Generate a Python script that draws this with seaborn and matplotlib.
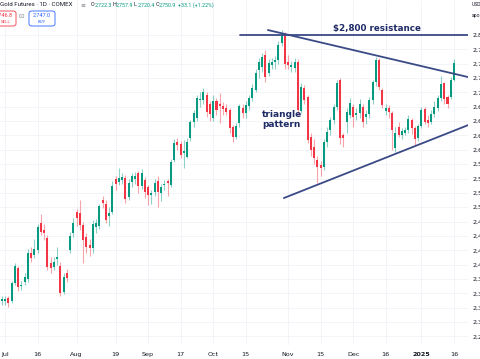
import numpy as np
import pandas as pd
import seaborn as sns
import matplotlib.pyplot as plt
from matplotlib.patches import FancyBboxPatch

# trading days shown on the chart (COMEX holidays dropped)
dates = pd.bdate_range("2024-06-28", "2025-01-16")
holidays = pd.to_datetime(["2024-07-04", "2024-09-02", "2024-11-28", "2024-12-25", "2025-01-01"])
dates = dates.drop(holidays)

# daily OHLC
opens = [2336,
    2337, 2342, 2336, 2368, 2394, 2362, 2370, 2375, 2420, 2417, 2425, 2472, 2460, 2446, 2403, 2396, 2410, 2398, 2352, 2385, 2425, 2455,
    2492, 2490, 2469, 2448, 2434, 2429, 2465, 2467, 2512, 2506, 2484, 2492, 2549, 2544, 2547, 2551, 2518, 2544, 2550, 2560, 2537, 2548,
    2535, 2521, 2527, 2545, 2524, 2538, 2545, 2539, 2582, 2613, 2610, 2594, 2588, 2620, 2648, 2655, 2686, 2687, 2696, 2680,
    2655, 2685, 2680, 2676, 2672, 2669, 2640, 2622, 2646, 2672, 2665, 2676, 2690, 2705, 2739, 2744, 2765, 2734, 2748, 2753, 2756, 2786, 2800,
    2753, 2744, 2743, 2753, 2668, 2708, 2692, 2622, 2605, 2582, 2574, 2570, 2614, 2634, 2652, 2675, 2722, 2626, 2648, 2661,
    2675, 2660, 2664, 2674, 2658, 2662, 2687, 2718, 2756, 2704, 2668, 2672, 2664, 2604, 2640, 2626, 2630, 2634, 2652, 2638, 2620,
    2641, 2671, 2652, 2648, 2662, 2672, 2690, 2716, 2692, 2692, 2722.3]
highs = [2346,
    2346, 2345, 2372, 2402, 2398, 2372, 2385, 2428, 2431, 2445, 2470, 2488, 2470, 2452, 2413, 2414, 2431, 2404, 2386, 2392, 2457, 2482,
    2497, 2513, 2475, 2455, 2445, 2478, 2480, 2506, 2520, 2512, 2500, 2545, 2555, 2568, 2560, 2556, 2550, 2560, 2562, 2563, 2566, 2553,
    2538, 2530, 2550, 2555, 2540, 2548, 2550, 2584, 2618, 2620, 2615, 2617, 2620, 2652, 2670, 2695, 2700, 2708, 2700, 2685,
    2696, 2690, 2699, 2684, 2680, 2672, 2644, 2646, 2680, 2680, 2685, 2696, 2715, 2740, 2760, 2768, 2774, 2758, 2760, 2763, 2790, 2808, 2805,
    2765, 2755, 2760, 2758, 2716, 2713, 2696, 2630, 2618, 2590, 2580, 2618, 2640, 2658, 2680, 2722, 2725, 2629, 2672, 2690,
    2680, 2672, 2688, 2680, 2670, 2692, 2722, 2762, 2760, 2708, 2680, 2678, 2668, 2640, 2648, 2638, 2640, 2660, 2656, 2642, 2645,
    2675, 2675, 2660, 2670, 2685, 2695, 2728, 2718, 2695, 2726, 2757.9]
lows = [2330,
    2330, 2326, 2333, 2364, 2354, 2355, 2365, 2370, 2404, 2412, 2420, 2451, 2443, 2390, 2385, 2390, 2399, 2345, 2348, 2370, 2420, 2448,
    2468, 2460, 2403, 2420, 2415, 2420, 2455, 2462, 2498, 2473, 2468, 2488, 2530, 2538, 2540, 2508, 2512, 2536, 2540, 2525, 2532, 2516,
    2504, 2506, 2520, 2501, 2510, 2530, 2520, 2535, 2578, 2600, 2585, 2568, 2585, 2615, 2640, 2650, 2675, 2680, 2658, 2650,
    2650, 2660, 2647, 2660, 2660, 2630, 2614, 2618, 2640, 2655, 2655, 2670, 2685, 2700, 2725, 2735, 2718, 2728, 2740, 2740, 2750, 2780, 2740,
    2740, 2735, 2735, 2660, 2664, 2680, 2612, 2590, 2575, 2542, 2555, 2564, 2605, 2625, 2645, 2670, 2610, 2605, 2630, 2655,
    2640, 2652, 2655, 2640, 2645, 2655, 2680, 2712, 2705, 2672, 2660, 2655, 2600, 2596, 2622, 2618, 2625, 2630, 2628, 2608, 2615,
    2638, 2645, 2640, 2645, 2658, 2668, 2685, 2680, 2673, 2688, 2720.4]
closes = [2340,
    2341, 2333, 2368, 2397, 2361, 2365, 2378, 2420, 2412, 2427, 2465, 2457, 2455, 2396, 2394, 2405, 2413, 2351, 2378, 2377, 2450, 2473,
    2481, 2469, 2443, 2431, 2429, 2471, 2472, 2502, 2507, 2478, 2490, 2537, 2541, 2551, 2552, 2514, 2542, 2554, 2554, 2537, 2560, 2527,
    2521, 2524, 2542, 2527, 2535, 2541, 2542, 2579, 2612, 2608, 2591, 2598, 2614, 2648, 2664, 2690, 2688, 2701, 2666, 2663,
    2685, 2669, 2677, 2671, 2666, 2638, 2622, 2641, 2676, 2664, 2678, 2691, 2708, 2734, 2753, 2762, 2727, 2751, 2753, 2757, 2783, 2800, 2750,
    2748, 2748, 2753, 2670, 2710, 2687, 2617, 2600, 2586, 2570, 2568, 2614, 2631, 2652, 2674, 2716, 2621, 2621, 2666, 2682,
    2657, 2665, 2680, 2648, 2662, 2686, 2718, 2756, 2710, 2678, 2672, 2666, 2634, 2630, 2626, 2632, 2634, 2653, 2638, 2619, 2641,
    2669, 2648, 2647, 2662, 2675, 2690, 2715, 2688, 2680, 2722, 2750.9]

# x axis labels
tick_dates = ["2024-07-01", "2024-07-16", "2024-08-01", "2024-08-19", "2024-09-03", "2024-09-17", "2024-10-01",
              "2024-10-15", "2024-11-01", "2024-11-15", "2024-12-02", "2024-12-16", "2025-01-02", "2025-01-16"]
tick_labels = ["Jul", "16", "Aug", "19", "Sep", "17", "Oct", "15", "Nov", "15", "Dec", "16", "2025", "16"]
price_ticks = list(range(2275, 2801, 25))

# drawn trendlines (trading-day position, price)
resist_x, resist_y = [73.2, 143.3], [2800, 2800]
upper_x, upper_y = [81.8, 143.3], [2808.7, 2726.8]
lower_x, lower_y = [86.7, 143.3], [2516, 2643]

# header legend values
ohlc_letters = ["O", "H", "L", "C"]
ohlc_values = ["2,722.3", "2,757.9", "2,720.4", "2,750.9"]
change_text = "+33.1 (+1.22%)"

df = pd.DataFrame({"date": dates, "open": opens, "high": highs, "low": lows, "close": closes})
df["pos"] = np.arange(len(df))
df["up"] = df["close"] >= df["open"]

UP, DOWN = "#089981", "#f23645"
NAVY_LINE, NAVY_TEXT = "#3a4a86", "#1f2b66"

sns.set_style("white")
plt.rcParams["font.family"] = ["DejaVu Sans"]

fig = plt.figure(figsize=(4.8, 3.59), dpi=100)
ax = fig.add_axes([0, 14 / 359, 468 / 480, 345 / 359])

colors = np.where(df["up"], UP, DOWN)
ax.vlines(df["pos"], df["low"], df["high"], colors=colors, lw=0.8, alpha=0.45, zorder=2)
body = (df["close"] - df["open"]).abs().clip(lower=1.2)
ax.bar(df["pos"], body, bottom=df[["open", "close"]].min(axis=1), width=0.62, color=colors, lw=0, zorder=3)

sns.lineplot(x=resist_x, y=resist_y, ax=ax, color=NAVY_LINE, lw=1.3, zorder=4)
sns.lineplot(x=upper_x, y=upper_y, ax=ax, color=NAVY_LINE, lw=1.3, zorder=4)
sns.lineplot(x=lower_x, y=lower_y, ax=ax, color=NAVY_LINE, lw=1.3, zorder=4)

ax.text(115.3, 2803, "$2,800 resistance", color=NAVY_TEXT, fontsize=6.3, fontweight="bold",
        ha="center", va="bottom", zorder=5)
ax.text(80, 2669, "triangle\npattern", color=NAVY_TEXT, fontsize=6.5, fontweight="bold",
        ha="left", va="top", linespacing=1.15, zorder=5)

ax.set_xlim(-0.54, 143.3)
ax.set_ylim(2260, 2861)

tick_pos = [dates.get_loc(pd.Timestamp(d)) for d in tick_dates]
ax.set_xticks(tick_pos)
ax.set_xticklabels(tick_labels)
for lab in ax.get_xticklabels():
    if lab.get_text() == "2025":
        lab.set_fontweight("bold")
ax.set_yticks(price_ticks)
ax.set_yticklabels([f"{p:,}" for p in price_ticks])
ax.yaxis.tick_right()
ax.tick_params(axis="x", length=0, pad=5, labelsize=4.6, labelcolor="#131722")
ax.tick_params(axis="y", length=0, pad=3, labelsize=4.6, labelcolor="#131722")
ax.grid(True, color="#f0f2f6", lw=0.6, zorder=0)
for s in ax.spines.values():
    s.set_visible(False)
ax.set_xlabel("")
ax.set_ylabel("")

# legend header like the screenshot
top = 1 - 5 / 359
fig.text(0, top, "Gold Futures · 1D · COMEX", fontsize=4.4, color="#131722", va="center", family="Roboto")
fig.text(80 / 480, top, "≡", fontsize=4.2, color="#787b86", va="center")
for i, (let, val) in enumerate(zip(ohlc_letters, ohlc_values)):
    x0 = 91 + 21.5 * i
    fig.text(x0 / 480, top, let, fontsize=3.9, color="#131722", va="center", family="Roboto")
    fig.text((x0 + 3.6) / 480, top, val, fontsize=3.9, color=UP, va="center", family="Roboto")
fig.text(178 / 480, top, change_text, fontsize=3.9, color=UP, va="center", family="Roboto")

fig.patches.append(FancyBboxPatch((-8 / 480, 1 - 26 / 359), 24 / 480, 15 / 359, transform=fig.transFigure,
                                  boxstyle="round,pad=0,rounding_size=0.006", fc="white", ec=DOWN, lw=0.6))
fig.text(4 / 480, 1 - 15 / 359, "2,746.8", fontsize=4, color=DOWN, ha="center", va="center", family="Roboto")
fig.text(6 / 480, 1 - 22 / 359, "SELL", fontsize=3.2, color=DOWN, ha="center", va="center", family="Roboto")
fig.text(22 / 480, 1 - 17 / 359, "0.2", fontsize=3.4, color="#787b86", ha="center", va="center", family="Roboto")
fig.patches.append(FancyBboxPatch((29 / 480, 1 - 26 / 359), 26 / 480, 15 / 359, transform=fig.transFigure,
                                  boxstyle="round,pad=0,rounding_size=0.006", fc="white", ec="#2962ff", lw=0.6))
fig.text(42 / 480, 1 - 15 / 359, "2,747.0", fontsize=4, color="#2962ff", ha="center", va="center", family="Roboto")
fig.text(42 / 480, 1 - 22 / 359, "BUY", fontsize=3.2, color="#2962ff", ha="center", va="center", family="Roboto")

fig.text(472 / 480, 1 - 5 / 359, "USD", fontsize=3.6, color="#131722", va="center", family="Roboto")
fig.text(472 / 480, 1 - 15 / 359, "apod", fontsize=3.6, color="#131722", va="center", family="Roboto")

fig.savefig("out.png", dpi=100)
